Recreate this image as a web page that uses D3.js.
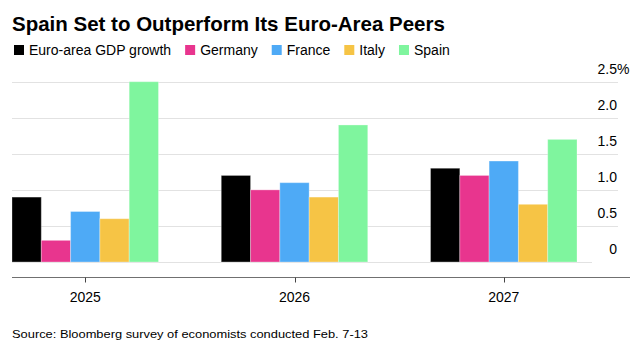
<!DOCTYPE html>
<html>
<head>
<meta charset="utf-8">
<script src="https://cdn.jsdelivr.net/npm/d3@7"></script>
<style>
    body { margin: 0; background: #fff; }
    svg { display: block; font-family: "Liberation Sans", Arial, Helvetica, sans-serif; }
</style>
</head>
<body>
<svg id="chart" width="640" height="360"></svg>
<script>
const years = ['2025', '2026', '2027'];
const seriesNames = ['Euro-area GDP growth', 'Germany', 'France', 'Italy', 'Spain'];
const seriesColors = ['#000000', '#e8358e', '#4eaaf6', '#f6c445', '#7ff59e'];
const euroArea = [0.9, 1.2, 1.3];
const germany = [0.3, 1.0, 1.2];
const france = [0.7, 1.1, 1.4];
const italy = [0.6, 0.9, 0.8];
const spain = [2.5, 1.9, 1.7];
const yTicks = [0, 0.5, 1.0, 1.5, 2.0, 2.5];

const seriesValues = [euroArea, germany, france, italy, spain];

const svg = d3.select('#chart');

// title
svg.append('text')
    .attr('x', 12)
    .attr('y', 31)
    .attr('font-size', 20.5)
    .attr('font-weight', 'bold')
    .attr('fill', '#000')
    .text('Spain Set to Outperform Its Euro-Area Peers');

// legend
const legend = svg.append('g').attr('class', 'legend');
let lx = 14;
seriesNames.forEach((name, i) => {
    legend.append('rect')
        .attr('x', lx)
        .attr('y', 45)
        .attr('width', 10)
        .attr('height', 10)
        .attr('fill', seriesColors[i]);
    const label = legend.append('text')
        .attr('x', lx + 15)
        .attr('y', 55)
        .attr('font-size', 14)
        .attr('fill', '#000')
        .text(name);
    lx += 15 + label.node().getComputedTextLength() + 14;
});

const x = d3.scaleBand()
    .domain(years)
    .range([12, 577])
    .paddingInner(0.3)
    .paddingOuter(0);

const xSub = d3.scaleBand()
    .domain(d3.range(seriesNames.length))
    .range([0, x.bandwidth()]);

const y = d3.scaleLinear()
    .domain([0, 2.5])
    .range([262, 81.7]);

// gridlines
svg.append('g')
    .selectAll('line')
    .data(yTicks)
    .join('line')
    .attr('x1', 12)
    .attr('x2', d => d === 0 ? 592 : 618)
    .attr('y1', d => Math.round(y(d)) + 0.5)
    .attr('y2', d => Math.round(y(d)) + 0.5)
    .attr('stroke', '#e2e2e2')
    .attr('stroke-width', 1.2);

// y labels, right side above the gridlines
svg.append('g')
    .selectAll('text')
    .data(yTicks)
    .join('text')
    .attr('x', 617)
    .attr('y', d => y(d) - 8)
    .attr('text-anchor', 'end')
    .attr('font-size', 14)
    .attr('fill', '#000')
    .text(d => d === 0 ? '0' : d3.format('.1f')(d));

svg.append('text')
    .attr('x', 617)
    .attr('y', y(2.5) - 8)
    .attr('font-size', 14)
    .attr('fill', '#000')
    .text('%');

// bars
const groups = svg.append('g')
    .selectAll('g')
    .data(years)
    .join('g')
    .attr('transform', d => `translate(${x(d)},0)`);

groups.selectAll('rect')
    .data((d, yi) => seriesValues.map((vals, si) => ({si, v: vals[yi]})))
    .join('rect')
    .attr('x', d => xSub(d.si))
    .attr('y', d => y(d.v))
    .attr('width', xSub.bandwidth())
    .attr('height', d => y(0) - y(d.v))
    .attr('fill', d => seriesColors[d.si])
    .attr('stroke', '#fff')
    .attr('stroke-opacity', 0.3)
    .attr('stroke-width', 1);

// x axis
const xAxis = svg.append('g')
    .attr('transform', 'translate(0,277.5)');

xAxis.append('line')
    .attr('x1', 12)
    .attr('x2', 630)
    .attr('stroke', '#707070')
    .attr('stroke-width', 1);

xAxis.selectAll('line.tick')
    .data(years)
    .join('line')
    .attr('class', 'tick')
    .attr('x1', d => Math.round(x(d) + x.bandwidth() / 2) + 0.5)
    .attr('x2', d => Math.round(x(d) + x.bandwidth() / 2) + 0.5)
    .attr('y1', 0)
    .attr('y2', 5)
    .attr('stroke', '#444');

xAxis.selectAll('text')
    .data(years)
    .join('text')
    .attr('x', d => x(d) + x.bandwidth() / 2)
    .attr('y', 24.5)
    .attr('text-anchor', 'middle')
    .attr('font-size', 14)
    .attr('fill', '#000')
    .text(d => d);

// source - the original font runs wider, so stretch to its width
svg.append('text')
    .attr('x', 12)
    .attr('y', 337.5)
    .attr('font-size', 11.5)
    .attr('fill', '#000')
    .attr('textLength', 356)
    .attr('lengthAdjust', 'spacingAndGlyphs')
    .text('Source: Bloomberg survey of economists conducted Feb. 7-13');
</script>
</body>
</html>
